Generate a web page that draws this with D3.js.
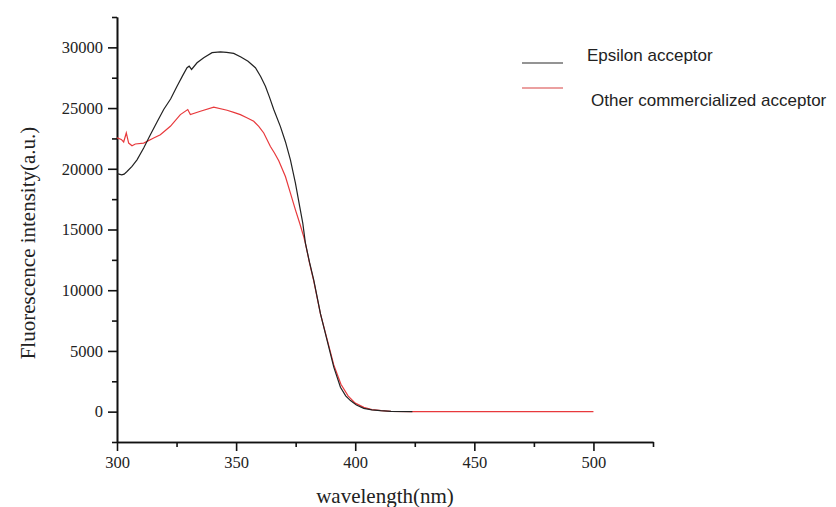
<body style="margin:0;background:#fff">
<script src="https://d3js.org/d3.v7.min.js"></script>
<style>
  .tick text { font-family: "Liberation Serif", serif; font-size: 16.5px; fill: #222; }
  .axis path, .axis line { stroke: #111; stroke-width: 1.6px; }
  .title { font-family: "Liberation Serif", serif; font-size: 21px; fill: #222; }
  .legend { font-family: "Liberation Sans", sans-serif; font-size: 17px; fill: #222; }
</style>
<script>
// Epsilon acceptor (black)
var epsilonWl  = [300, 302, 303, 304.2, 306.3, 308.4, 311.2, 314, 316.8, 319.6, 322.5, 325.2, 327.5, 329.4, 330.3, 331.3, 333.6, 336.4, 339.9, 343.4, 346, 349, 352, 355, 358.1, 360.3, 362.3, 364, 365.8, 368.6, 370.7, 372.8, 374.9, 376.7, 378, 379.1, 380.8, 382.6, 385.4, 388.2, 391, 393.8, 396, 398, 400.5, 403.6, 407, 410.6, 415, 424];
var epsilonVal = [19600, 19500, 19560, 19780, 20190, 20740, 21710, 22810, 23850, 24880, 25750, 26800, 27650, 28320, 28450, 28180, 28730, 29150, 29560, 29620, 29580, 29500, 29200, 28850, 28320, 27600, 26800, 25900, 24880, 23470, 22230, 20740, 18820, 16880, 15510, 13860, 12310, 10830, 8070, 5870, 3660, 2010, 1300, 910, 550, 270, 150, 80, 30, 0];

// Other commercialized acceptor (red)
var otherWl  = [300, 301.8, 302.8, 303.9, 304.9, 306.3, 307.7, 311.2, 315.4, 318.2, 322.4, 326.6, 329.7, 330.8, 335, 340.6, 346.2, 349, 351.8, 354.5, 357.4, 359.5, 361.6, 364.4, 366.1, 367.9, 370.7, 372.8, 374.9, 376.7, 378.4, 379.1, 380.8, 382.6, 385.4, 388.2, 391, 394, 397, 400, 403.6, 407, 411, 415, 425, 500];
var otherVal = [22540, 22420, 22210, 22950, 22120, 21900, 22040, 22120, 22540, 22810, 23500, 24460, 24880, 24460, 24740, 25070, 24820, 24650, 24460, 24200, 23910, 23500, 22950, 21840, 21300, 20660, 19360, 17990, 16610, 15510, 14400, 13860, 12250, 10750, 8050, 5950, 3850, 2250, 1300, 700, 350, 170, 80, 30, 0, 0];

var xTicks = [300, 350, 400, 450, 500];
var xMinor = [325, 375, 425, 475, 525];
var yTicks = [0, 5000, 10000, 15000, 20000, 25000, 30000];
var yMinor = [-2500, 2500, 7500, 12500, 17500, 22500, 27500, 32500];
var seriesNames = ["Epsilon acceptor", "Other commercialized acceptor"];

var margin = {top: 17, left: 117},
    width = 536,
    height = 425;

var svg = d3.select("body").append("svg")
    .attr("width", 836)
    .attr("height", 507);

var g = svg.append("g")
    .attr("transform", "translate(" + margin.left + "," + margin.top + ")");

var x = d3.scaleLinear().domain([300, 525]).range([0, width]);
var y = d3.scaleLinear().domain([-2500, 32500]).range([height, 0]);

// axes (minor ticks drawn separately, no labels)
g.append("g").attr("class", "axis")
    .attr("transform", "translate(0," + height + ")")
    .call(d3.axisBottom(x).tickValues(xMinor).tickSize(5).tickSizeOuter(0).tickFormat(""));
g.append("g").attr("class", "axis")
    .attr("transform", "translate(0," + height + ")")
    .call(d3.axisBottom(x).tickValues(xTicks).tickSize(9).tickSizeOuter(0).tickPadding(5).tickFormat(d3.format("d")));
g.append("g").attr("class", "axis")
    .call(d3.axisLeft(y).tickValues(yMinor).tickSize(5).tickSizeOuter(0).tickFormat(""));
g.append("g").attr("class", "axis")
    .call(d3.axisLeft(y).tickValues(yTicks).tickSize(9).tickSizeOuter(0).tickPadding(5).tickFormat(d3.format("d")));

// lines
var line = d3.line().x(d => x(d[0])).y(d => y(d[1]));

g.append("path")
    .datum(otherWl.map((w, i) => [w, otherVal[i]]))
    .attr("d", line)
    .attr("fill", "none")
    .attr("stroke", "#e8393c")
    .attr("stroke-width", 1.2);

g.append("path")
    .datum(epsilonWl.map((w, i) => [w, epsilonVal[i]]))
    .attr("d", line)
    .attr("fill", "none")
    .attr("stroke", "#222")
    .attr("stroke-width", 1.2);

// titles
svg.append("text")
    .attr("class", "title")
    .attr("x", 385)
    .attr("y", 503)
    .attr("text-anchor", "middle")
    .text("wavelength(nm)");
svg.append("text")
    .attr("class", "title")
    .attr("transform", "translate(35,243) rotate(-90)")
    .attr("text-anchor", "middle")
    .text("Fluorescence intensity(a.u.)");

// legend
var legendColors = ["#707070", "#e58080"];
var legendY = [63, 88];
var legendTextY = [61, 106];
var legendTextX = [587, 591];
seriesNames.forEach((name, i) => {
    svg.append("line")
        .attr("x1", 522).attr("x2", 563)
        .attr("y1", legendY[i]).attr("y2", legendY[i])
        .attr("stroke", legendColors[i])
        .attr("stroke-width", 1.6);
    svg.append("text")
        .attr("class", "legend")
        .attr("x", legendTextX[i])
        .attr("y", legendTextY[i])
        .text(name);
});
</script>
</body>
